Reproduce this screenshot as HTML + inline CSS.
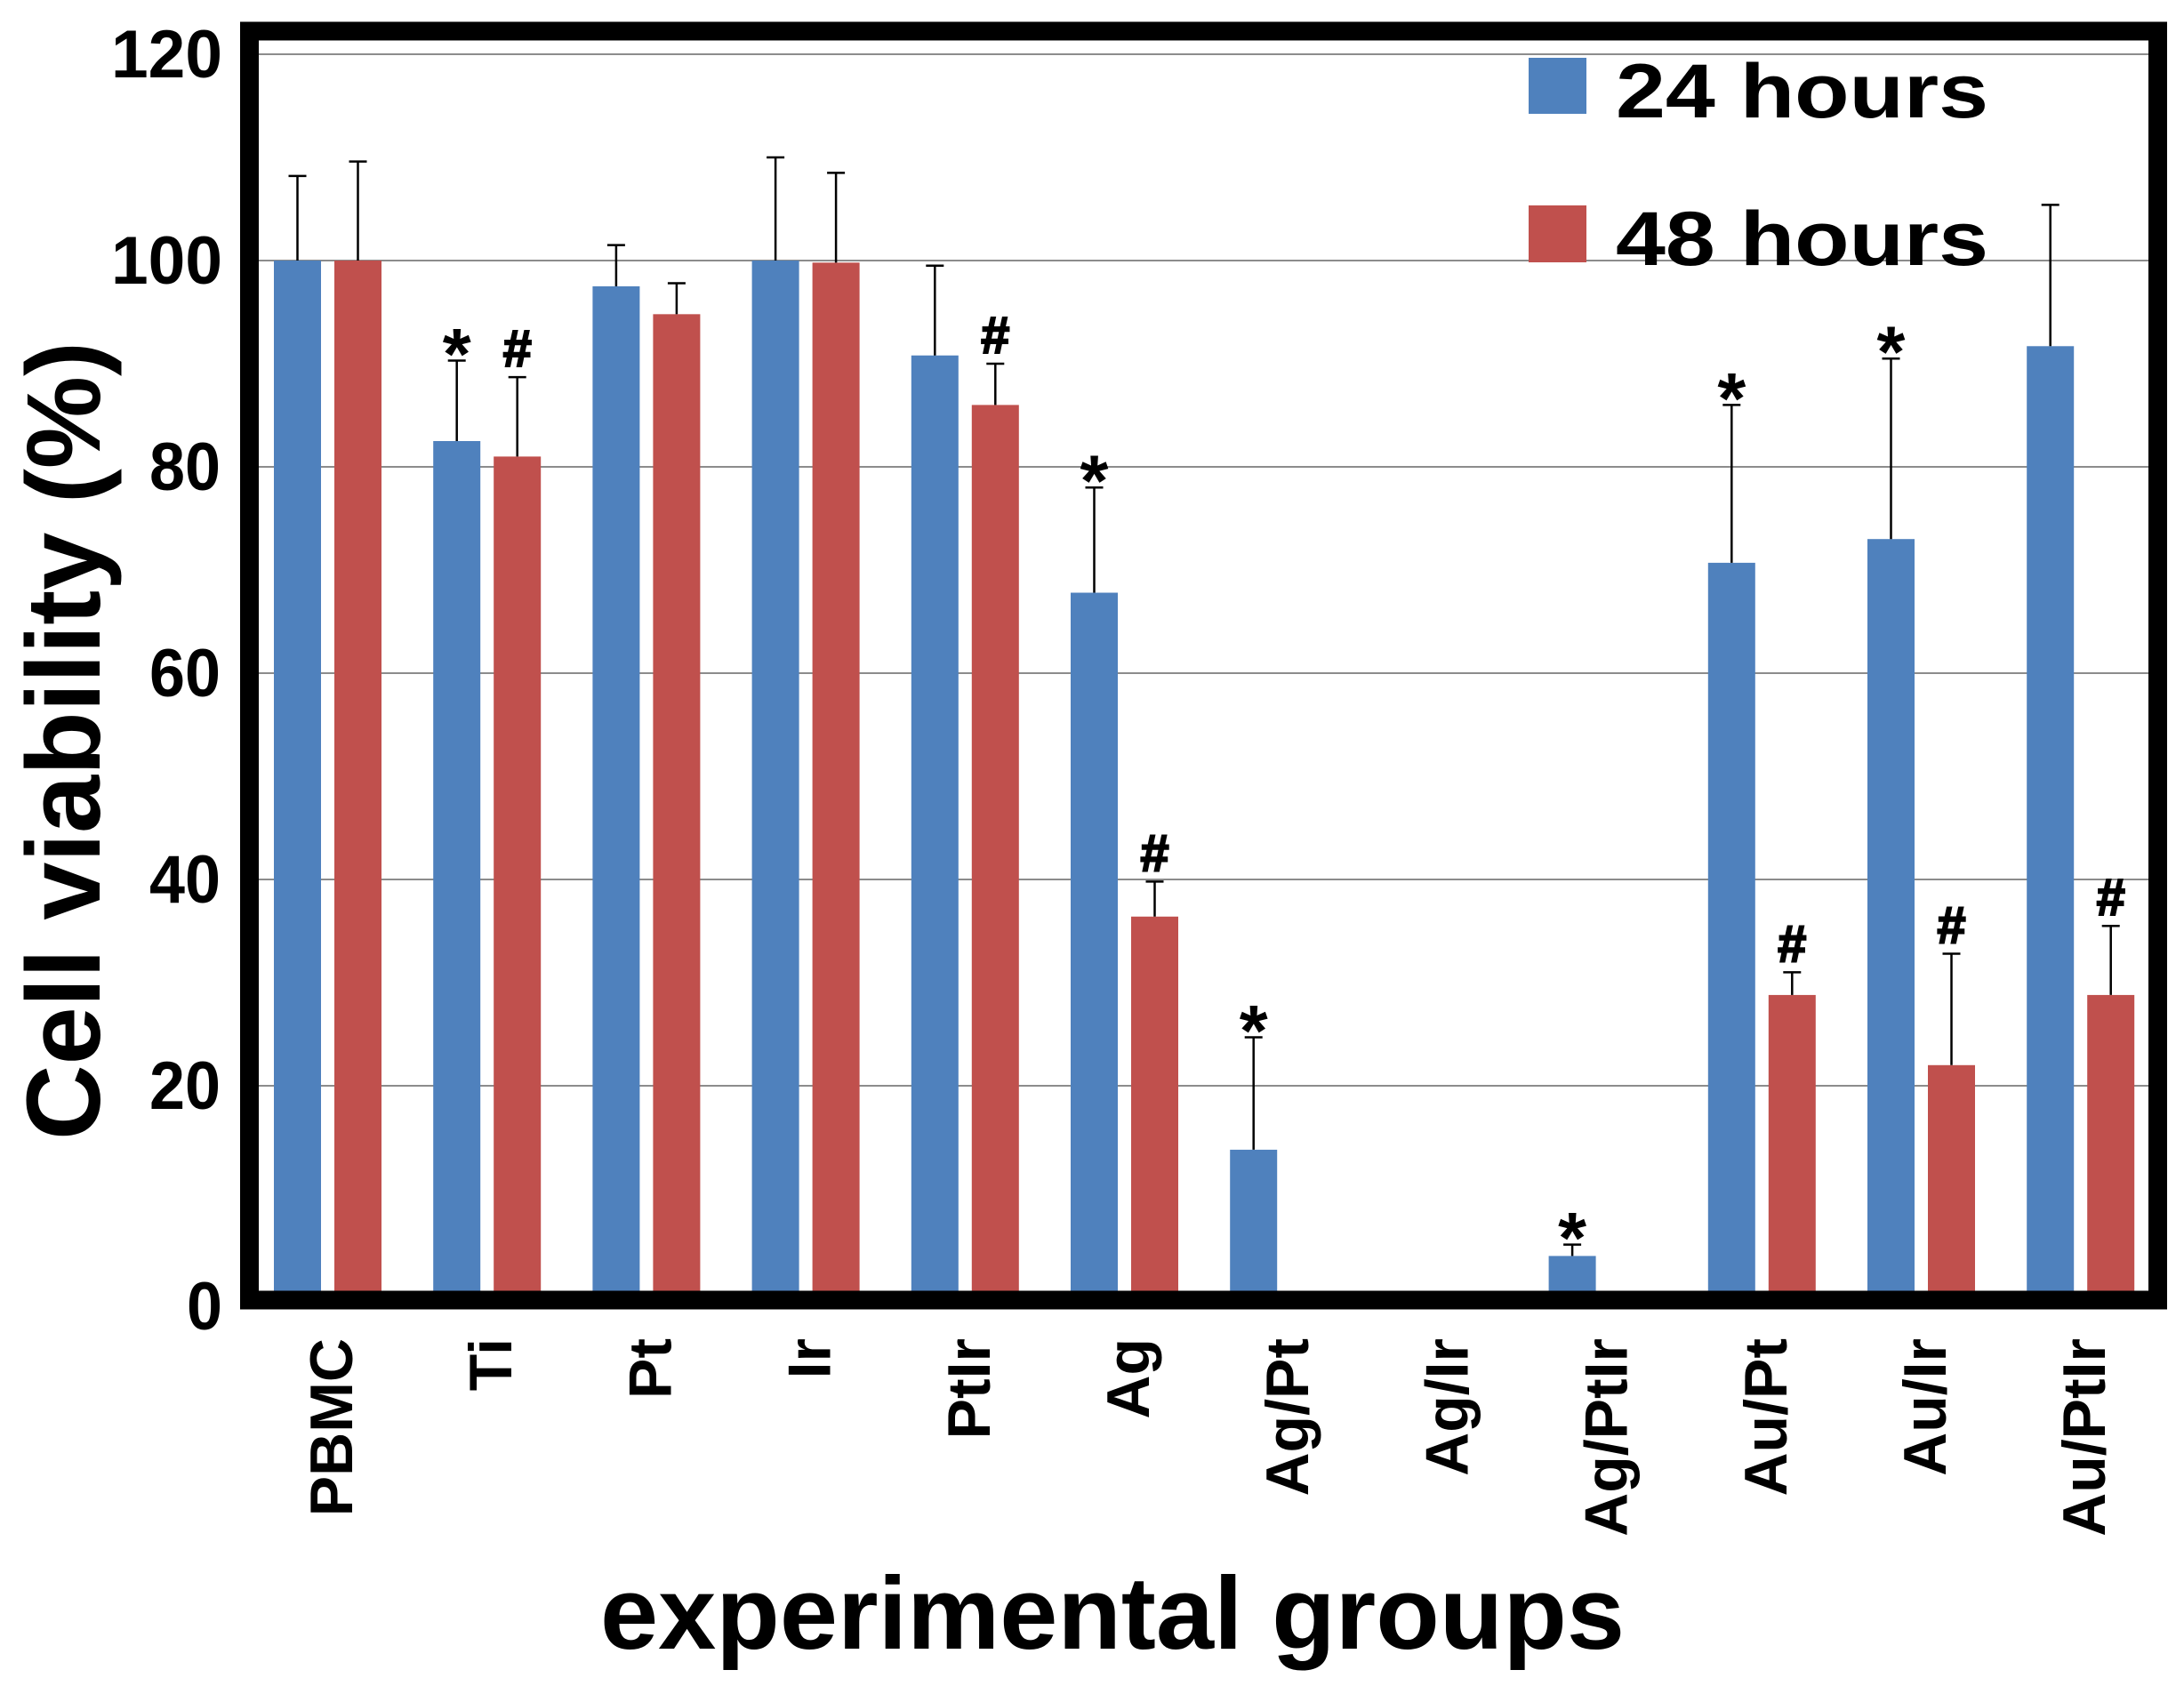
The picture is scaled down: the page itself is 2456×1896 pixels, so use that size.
<!DOCTYPE html>
<html><head><meta charset="utf-8"><style>html,body{margin:0;padding:0;background:#fff}svg{display:block}</style></head>
<body>
<svg width="2456" height="1896" viewBox="0 0 2456 1896" xmlns="http://www.w3.org/2000/svg" font-family="'Liberation Sans', Arial, sans-serif" font-weight="bold">
<rect width="2456" height="1896" fill="#fff"/>
<g stroke="#8c8c8c" stroke-width="2">
<line x1="291" x2="2419" y1="61" y2="61"/>
<line x1="291" x2="2419" y1="293" y2="293"/>
<line x1="291" x2="2419" y1="525" y2="525"/>
<line x1="291" x2="2419" y1="757" y2="757"/>
<line x1="291" x2="2419" y1="989" y2="989"/>
<line x1="291" x2="2419" y1="1221" y2="1221"/>
</g>
<g id="bars"></g>
<rect x="280.5" y="35" width="2146" height="1427" fill="none" stroke="#000" stroke-width="21"/>
<g font-size="76" fill="#000">
<text x="125" y="87" textLength="125" lengthAdjust="spacingAndGlyphs">120</text>
<text x="125" y="319" textLength="125" lengthAdjust="spacingAndGlyphs">100</text>
<text x="168" y="551" textLength="80" lengthAdjust="spacingAndGlyphs">80</text>
<text x="168" y="783" textLength="80" lengthAdjust="spacingAndGlyphs">60</text>
<text x="168" y="1015" textLength="80" lengthAdjust="spacingAndGlyphs">40</text>
<text x="168" y="1247" textLength="80" lengthAdjust="spacingAndGlyphs">20</text>
<text x="210" y="1495" textLength="40" lengthAdjust="spacingAndGlyphs">0</text>
</g>
<text transform="translate(112,1282) rotate(-90)" font-size="118" textLength="898" lengthAdjust="spacingAndGlyphs">Cell viability (%)</text>
<text x="675" y="1854" font-size="116" textLength="1152" lengthAdjust="spacingAndGlyphs">experimental groups</text>
<rect x="1719" y="65" width="65" height="63" fill="#4f81bd"/>
<rect x="1719" y="231" width="65" height="64" fill="#c0504d"/>
<g font-size="86">
<text x="1817" y="132" textLength="419" lengthAdjust="spacingAndGlyphs">24 hours</text>
<text x="1817" y="298" textLength="419" lengthAdjust="spacingAndGlyphs">48 hours</text>
</g>
<g id="labels" font-size="68" text-anchor="end"></g>
<script>
var ns="http://www.w3.org/2000/svg";
var names=["PBMC","Ti","Pt","Ir","PtIr","Ag","Ag/Pt","Ag/Ir","Ag/PtIr","Au/Pt","Au/Ir","Au/PtIr"];
var b=[100,82.5,97.5,100,90.8,67.8,13.8,0,3.5,70.7,73,91.7];
var r=[100,81,94.8,99.8,86,36.4,0,0,0,28.8,22,28.8];
var be=[108.2,90.3,101.5,110,99.5,78,24.7,null,4.6,86,90.5,105.4];
var re=[109.6,88.7,97.8,108.5,90,39.8,null,null,null,31,32.8,35.5];
var bs=[0,1,0,0,0,1,1,0,1,1,1,0];
var rs=[0,1,0,0,1,1,0,0,0,1,1,1];
function Y(v){return 1453-v*11.6;}
var g=document.getElementById("bars"),L=document.getElementById("labels");
function el(t,a,p,txt){var e=document.createElementNS(ns,t);for(var k in a)e.setAttribute(k,a[k]);if(txt)e.textContent=txt;p.appendChild(e);return e;}
for(var i=0;i<12;i++){
 var bx=308+179.2*i, rx=376+179.2*i, w=53;
 [[bx,b[i],be[i],"#4f81bd",bs[i],"*"],[rx,r[i],re[i],"#c0504d",rs[i],"#"]].forEach(function(s){
  var x=s[0],v=s[1],e=s[2];
  if(v>0) el("rect",{x:x,y:Y(v),width:w,height:Y(0)-Y(v),fill:s[3]},g);
  if(e!==null){var cx=x+w/2;
   el("line",{x1:cx,x2:cx,y1:Y(v),y2:Y(e),stroke:"#000","stroke-width":2.5},g);
   el("line",{x1:cx-10,x2:cx+10,y1:Y(e),y2:Y(e),stroke:"#000","stroke-width":2.5},g);
   if(s[4]){ if(s[5]=="*") el("text",{x:cx,y:Y(e)+21,"text-anchor":"middle","font-size":82},g,"*");
     else el("text",{x:cx,y:Y(e)-12,"text-anchor":"middle","font-size":58,"stroke":"#000","stroke-width":2},g,"#");}
  }
 });
 var c=bx+63;
 el("text",{transform:"translate("+(c+25)+",1505) rotate(-90)"},L,names[i]);
}
</script>
</svg>
</body></html>
